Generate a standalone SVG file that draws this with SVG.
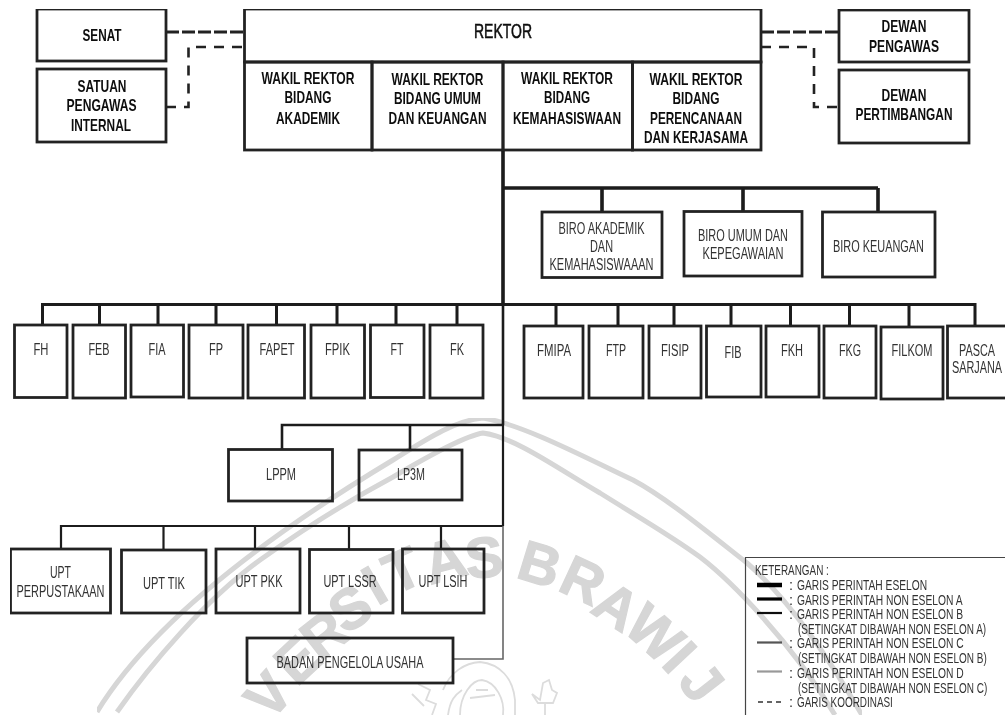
<svg xmlns="http://www.w3.org/2000/svg" width="1005" height="715" viewBox="0 0 1005 715">
<defs><filter id="soft" x="0" y="0" width="100%" height="100%"><feGaussianBlur stdDeviation="0.4"/></filter></defs>
<style>
text{font-family:"Liberation Sans",Arial,sans-serif;text-anchor:middle}
.box{fill:none;stroke:#222;stroke-width:2.8}
.b{font-size:16.5px;font-weight:700;fill:#111}
.r{font-size:16px;fill:#333}
.l{font-size:14.5px;fill:#333;text-anchor:start}
.wm{font-size:57px;font-weight:700;fill:#d6d6d6;stroke:#d6d6d6;stroke-width:1.2}
.arc{fill:none;stroke:#d6d6d6;stroke-width:5}
.crest{fill:none;stroke:#dcdcdc;stroke-width:1.8}
.c{fill:none;stroke:#1c1c1c}
.d1{fill:none;stroke:#222;stroke-width:3;stroke-dasharray:13 3}
.d2{fill:none;stroke:#222;stroke-width:2.6;stroke-dasharray:10 8}
</style>
<rect width="1005" height="715" fill="#fff"/>
<g id="watermark" filter="url(#soft)">
<path class="arc" d="M97 712C150 625 260 540 393 460C425 440 455 420 483 418C525 425 590 460 633 480C665 497 705 530 747 563C790 600 830 660 862 715"/>
<path class="arc" d="M117 712C150 665 205 600 260 560C305 528 350 500 393 477C430 455 465 436 483 433C515 437 560 470 600 493C635 515 670 535 700 557C730 580 790 640 835 715"/>
<text class="wm" transform="translate(268 695) rotate(-48)" y="20">V</text>
<text class="wm" transform="translate(297 660) rotate(-43)" y="20">E</text>
<text class="wm" transform="translate(324 634) rotate(-38)" y="20">R</text>
<text class="wm" transform="translate(350 608) rotate(-33)" y="20">S</text>
<text class="wm" transform="translate(374 585) rotate(-30)" y="20">I</text>
<text class="wm" transform="translate(402 570) rotate(-24)" y="20">T</text>
<text class="wm" transform="translate(445 560) rotate(-15)" y="20">A</text>
<text class="wm" transform="translate(484 557) rotate(-6)" y="20">S</text>
<text class="wm" transform="translate(540 564) rotate(17)" y="20">B</text>
<text class="wm" transform="translate(583 580) rotate(25)" y="20">R</text>
<text class="wm" transform="translate(617 606) rotate(33)" y="20">A</text>
<text class="wm" transform="translate(655 633) rotate(42)" y="20">W</text>
<text class="wm" transform="translate(680 657) rotate(47)" y="20">I</text>
<text class="wm" transform="translate(702 682) rotate(52)" y="20">J</text>
<path class="crest" d="M443 690C450 672 465 663 480 662C500 664 513 678 515 700V715M448 715C450 700 455 695 462 690"/>
<path class="crest" d="M460 715C460 695 472 680 482 680C496 682 505 700 503 715M470 698L495 695M476 690L488 690"/>
<path class="crest" d="M545 715V703M532 694L540 700L543 683L549 680L552 690L557 693L553 703H538Z"/>
<path class="crest" d="M418 684L430 690L426 700L436 704L432 715M412 694L424 706"/>
</g>
<g filter="url(#soft)">
<g id="connectors">
<path class="c" stroke-width="3.6" d="M503 150V304M503 188H878M602 188V212M743 188V212M878 188V212"/>
<path class="c" stroke-width="3" d="M42.500 325V304.500H975V326M99.500 304.500V325M158 304.500V325M216 304.500V325M276.500 304.500V325M337 304.500V325M396 304.500V325M457 304.500V325M556 304.500V326M618 304.500V326M674 304.500V326M731 304.500V326M790.500 304.500V326M849.500 304.500V326M909 304.500V326"/>
<path class="c" stroke-width="2.6" d="M503 304V425"/>
<path class="c" stroke-width="2.6" d="M503 425H282V450M410 425V450"/>
<path class="c" stroke-width="2.2" d="M503 425V526"/>
<path class="c" stroke-width="2.2" stroke="#333" d="M503 526H61V549M163.500 526V550M255 526V549M349 526V549M441 526V549"/>
<path fill="none" stroke="#666" stroke-width="1.6" d="M503 526V659H453"/>
<path class="d1" d="M166 32H245"/>
<path class="d2" d="M166 107H188.500V47H244"/>
<path class="d1" d="M761 32H839"/>
<path class="d2" d="M761 47H814V107H839"/>
</g>
<g id="senat"><rect class="box" x="37" y="9" width="129" height="52"/><text class="b" x="102" y="40.500" textLength="39" lengthAdjust="spacingAndGlyphs">SENAT</text></g>
<g id="spi"><rect class="box" x="37" y="69" width="129" height="73"/><text class="b" x="102" y="91.500" textLength="49" lengthAdjust="spacingAndGlyphs">SATUAN</text><text class="b" x="101.500" y="110.500" textLength="70" lengthAdjust="spacingAndGlyphs">PENGAWAS</text><text class="b" x="101" y="131" textLength="60" lengthAdjust="spacingAndGlyphs">INTERNAL</text></g>
<g id="rektor"><rect class="box" x="244.500" y="9" width="516.500" height="53"/><text x="503" y="37.500" font-size="20.500" fill="#111" stroke="#111" stroke-width=".55" textLength="58" lengthAdjust="spacingAndGlyphs">REKTOR</text></g>
<g id="wr1"><rect class="box" x="244.500" y="62" width="127.500" height="88"/><text class="b" x="308" y="84" textLength="93" lengthAdjust="spacingAndGlyphs">WAKIL REKTOR</text><text class="b" x="308" y="103" textLength="47" lengthAdjust="spacingAndGlyphs">BIDANG</text><text class="b" x="308" y="123.500" textLength="64" lengthAdjust="spacingAndGlyphs">AKADEMIK</text></g>
<g id="wr2"><rect class="box" x="372" y="62" width="131" height="88"/><text class="b" x="437.500" y="85" textLength="92" lengthAdjust="spacingAndGlyphs">WAKIL REKTOR</text><text class="b" x="437.500" y="104" textLength="87" lengthAdjust="spacingAndGlyphs">BIDANG UMUM</text><text class="b" x="437.500" y="123.500" textLength="98" lengthAdjust="spacingAndGlyphs">DAN KEUANGAN</text></g>
<g id="wr3"><rect class="box" x="503" y="62" width="129.500" height="88"/><text class="b" x="567" y="84" textLength="92" lengthAdjust="spacingAndGlyphs">WAKIL REKTOR</text><text class="b" x="567" y="103" textLength="46" lengthAdjust="spacingAndGlyphs">BIDANG</text><text class="b" x="567" y="123.500" textLength="108" lengthAdjust="spacingAndGlyphs">KEMAHASISWAAN</text></g>
<g id="wr4"><rect class="box" x="632.500" y="62" width="128.500" height="88"/><text class="b" x="696" y="85" textLength="93" lengthAdjust="spacingAndGlyphs">WAKIL REKTOR</text><text class="b" x="696" y="104" textLength="47" lengthAdjust="spacingAndGlyphs">BIDANG</text><text class="b" x="696" y="123.500" textLength="92" lengthAdjust="spacingAndGlyphs">PERENCANAAN</text><text class="b" x="696" y="143" textLength="104" lengthAdjust="spacingAndGlyphs">DAN KERJASAMA</text></g>
<g id="dewan-pengawas"><rect class="box" x="839" y="10" width="130" height="52"/><text class="b" x="904" y="32" textLength="45" lengthAdjust="spacingAndGlyphs">DEWAN</text><text class="b" x="904" y="52" textLength="70" lengthAdjust="spacingAndGlyphs">PENGAWAS</text></g>
<g id="dewan-pertimbangan"><rect class="box" x="839" y="70" width="130" height="73"/><text class="b" x="904" y="101" textLength="45" lengthAdjust="spacingAndGlyphs">DEWAN</text><text class="b" x="904" y="120" textLength="97" lengthAdjust="spacingAndGlyphs">PERTIMBANGAN</text></g>
<g id="biro-akademik"><rect class="box" x="542" y="212" width="120" height="65.500"/><text class="r" x="601.500" y="233.500" textLength="86" lengthAdjust="spacingAndGlyphs">BIRO AKADEMIK</text><text class="r" x="601.500" y="252" textLength="23" lengthAdjust="spacingAndGlyphs">DAN</text><text class="r" x="601.500" y="270" textLength="104" lengthAdjust="spacingAndGlyphs">KEMAHASISWAAAN</text></g>
<g id="biro-umum"><rect class="box" x="684" y="211.500" width="118" height="64.500"/><text class="r" x="743" y="241" textLength="90" lengthAdjust="spacingAndGlyphs">BIRO UMUM DAN</text><text class="r" x="743" y="259" textLength="81" lengthAdjust="spacingAndGlyphs">KEPEGAWAIAN</text></g>
<g id="biro-keuangan"><rect class="box" x="822.500" y="212" width="112.500" height="65"/><text class="r" x="878.500" y="252" textLength="91" lengthAdjust="spacingAndGlyphs">BIRO KEUANGAN</text></g>
<g id="fh"><rect class="box" x="14.500" y="325" width="52.500" height="72.500"/><text class="r" x="41" y="354.500" textLength="15" lengthAdjust="spacingAndGlyphs">FH</text></g>
<g id="feb"><rect class="box" x="73" y="325" width="52.500" height="73"/><text class="r" x="99" y="354.500" textLength="21" lengthAdjust="spacingAndGlyphs">FEB</text></g>
<g id="fia"><rect class="box" x="131" y="325" width="52.500" height="72"/><text class="r" x="157" y="354.500" textLength="17" lengthAdjust="spacingAndGlyphs">FIA</text></g>
<g id="fp"><rect class="box" x="189" y="325" width="54" height="73"/><text class="r" x="216" y="354.500" textLength="14" lengthAdjust="spacingAndGlyphs">FP</text></g>
<g id="fapet"><rect class="box" x="248" y="325" width="56.500" height="73"/><text class="r" x="277" y="354.500" textLength="35" lengthAdjust="spacingAndGlyphs">FAPET</text></g>
<g id="fpik"><rect class="box" x="311" y="325" width="53.500" height="73"/><text class="r" x="337.500" y="354.500" textLength="25" lengthAdjust="spacingAndGlyphs">FPIK</text></g>
<g id="ft"><rect class="box" x="370.500" y="325" width="53.500" height="72.500"/><text class="r" x="397" y="354.500" textLength="13" lengthAdjust="spacingAndGlyphs">FT</text></g>
<g id="fk"><rect class="box" x="430" y="325" width="53" height="73"/><text class="r" x="457" y="354.500" textLength="14" lengthAdjust="spacingAndGlyphs">FK</text></g>
<g id="fmipa"><rect class="box" x="524" y="326" width="59" height="72"/><text class="r" x="554" y="356" textLength="34" lengthAdjust="spacingAndGlyphs">FMIPA</text></g>
<g id="ftp"><rect class="box" x="589" y="326" width="54" height="72"/><text class="r" x="616" y="356" textLength="20" lengthAdjust="spacingAndGlyphs">FTP</text></g>
<g id="fisip"><rect class="box" x="649" y="326" width="52" height="72"/><text class="r" x="675" y="356" textLength="28" lengthAdjust="spacingAndGlyphs">FISIP</text></g>
<g id="fib"><rect class="box" x="706.500" y="326" width="54.500" height="71"/><text class="r" x="733" y="357.500" textLength="17" lengthAdjust="spacingAndGlyphs">FIB</text></g>
<g id="fkh"><rect class="box" x="766" y="326" width="53" height="71"/><text class="r" x="792" y="356" textLength="22" lengthAdjust="spacingAndGlyphs">FKH</text></g>
<g id="fkg"><rect class="box" x="824" y="326" width="52" height="72"/><text class="r" x="850" y="356" textLength="22" lengthAdjust="spacingAndGlyphs">FKG</text></g>
<g id="filkom"><rect class="box" x="881" y="327" width="62" height="72"/><text class="r" x="912" y="356" textLength="41" lengthAdjust="spacingAndGlyphs">FILKOM</text></g>
<g id="pasca"><rect class="box" x="947.500" y="326" width="60" height="72"/><text class="r" transform="translate(977 356) scale(.68 1)">PASCA</text><text class="r" transform="translate(977 373) scale(.68 1)">SARJANA</text></g>
<g id="lppm"><rect class="box" x="228.500" y="449.500" width="104" height="51.500"/><text class="r" x="281" y="480" textLength="30" lengthAdjust="spacingAndGlyphs">LPPM</text></g>
<g id="lp3m"><rect class="box" x="359" y="450" width="103" height="50"/><text class="r" x="411" y="480" textLength="28" lengthAdjust="spacingAndGlyphs">LP3M</text></g>
<g id="upt-perpustakaan"><rect class="box" x="10.500" y="549" width="100" height="64"/><text class="r" x="60.500" y="578" textLength="21" lengthAdjust="spacingAndGlyphs">UPT</text><text class="r" x="60.500" y="596.500" textLength="88" lengthAdjust="spacingAndGlyphs">PERPUSTAKAAN</text></g>
<g id="upt-tik"><rect class="box" x="121.500" y="550" width="84.500" height="63"/><text class="r" x="164" y="588.500" textLength="42" lengthAdjust="spacingAndGlyphs">UPT TIK</text></g>
<g id="upt-pkk"><rect class="box" x="216" y="549" width="84" height="64"/><text class="r" x="259" y="587" textLength="47" lengthAdjust="spacingAndGlyphs">UPT PKK</text></g>
<g id="upt-lssr"><rect class="box" x="309.500" y="549.500" width="83.500" height="63.500"/><text class="r" x="350" y="587" textLength="53" lengthAdjust="spacingAndGlyphs">UPT LSSR</text></g>
<g id="upt-lsih"><rect class="box" x="402.500" y="549" width="81.500" height="64"/><text class="r" x="443" y="587" textLength="49" lengthAdjust="spacingAndGlyphs">UPT LSIH</text></g>
<g id="badan"><rect class="box" x="247" y="638" width="206" height="45"/><text class="r" x="350" y="668" textLength="147" lengthAdjust="spacingAndGlyphs">BADAN PENGELOLA USAHA</text></g>
<g id="legend">
<path fill="none" stroke="#444" stroke-width="1.2" d="M745.500 715V557.500H1005"/>
<path fill="none" stroke="#000" stroke-width="4.500" d="M757 585H782"/>
<path fill="none" stroke="#000" stroke-width="3.200" d="M757 599H782"/>
<path fill="none" stroke="#111" stroke-width="2.200" d="M757 613H782"/>
<path fill="none" stroke="#555" stroke-width="2.200" d="M757 642.500H782"/>
<path fill="none" stroke="#999" stroke-width="2.200" d="M757 671.500H782"/>
<path fill="none" stroke="#333" stroke-width="1.600" stroke-dasharray="5 4" d="M758 702H782"/>
<text class="l" transform="translate(755 575) scale(.685 1)">KETERANGAN :</text>
<text class="l" x="789" y="590">:</text><text class="l" x="789" y="604.500">:</text><text class="l" x="789" y="619">:</text><text class="l" x="789" y="648">:</text><text class="l" x="789" y="677.500">:</text><text class="l" x="789" y="707">:</text>
<text class="l" transform="translate(797 590) scale(.707 1)">GARIS PERINTAH ESELON</text>
<text class="l" transform="translate(797 604.500) scale(.71 1)">GARIS PERINTAH NON ESELON A</text>
<text class="l" transform="translate(797 619) scale(.71 1)">GARIS PERINTAH NON ESELON B</text>
<text class="l" transform="translate(798 634) scale(.69 1)">(SETINGKAT DIBAWAH NON ESELON A)</text>
<text class="l" transform="translate(797 648) scale(.71 1)">GARIS PERINTAH NON ESELON C</text>
<text class="l" transform="translate(798 663) scale(.69 1)">(SETINGKAT DIBAWAH NON ESELON B)</text>
<text class="l" transform="translate(797 677.500) scale(.71 1)">GARIS PERINTAH NON ESELON D</text>
<text class="l" transform="translate(798 692.500) scale(.69 1)">(SETINGKAT DIBAWAH NON ESELON C)</text>
<text class="l" transform="translate(797 707) scale(.685 1)">GARIS KOORDINASI</text>
</g>
</g>
</svg>
